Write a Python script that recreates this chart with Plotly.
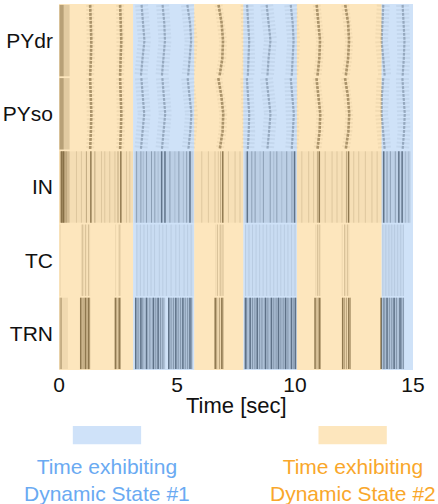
import plotly.graph_objects as go

# ---------------------------------------------------------------- data
POPULATIONS = ["PYdr", "PYso", "IN", "TC", "TRN"]
X_TICKS = [0, 5, 10, 15]

# epochs of the recording and the dynamic state expressed in each
STATE_EDGES = [0.0, 3.14, 5.73, 7.81, 10.08, 13.67, 15.0]
STATE_OF_EPOCH = [2, 1, 2, 1, 2, 1]

# pyramidal population waves: spike time (s) of the wave front sampled at
# these fractional positions down the neuron index
BAND_ROWS = [0.0, 0.25, 0.5, 0.75, 1.0]
PYDR_BANDS = [
    [1.32, 1.35, 1.37, 1.35, 1.32],
    [2.59, 2.61, 2.64, 2.61, 2.59],
    [3.50, 3.57, 3.62, 3.54, 3.47],
    [4.39, 4.46, 4.49, 4.42, 4.36],
    [5.44, 5.55, 5.60, 5.55, 5.47],
    [6.76, 6.89, 6.95, 6.92, 6.80],
    [7.97, 8.03, 8.06, 8.03, 8.00],
    [8.80, 8.88, 8.96, 8.88, 8.83],
    [9.82, 9.90, 9.94, 9.90, 9.86],
    [10.92, 11.00, 11.06, 11.03, 10.95],
    [12.13, 12.25, 12.29, 12.25, 12.15],
    [13.74, 13.69, 13.67, 13.74, 13.80],
    [14.56, 14.61, 14.64, 14.61, 14.56],
]
PYSO_BANDS = [
    [1.32, 1.34, 1.37, 1.35, 1.32],
    [2.59, 2.62, 2.64, 2.62, 2.59],
    [3.49, 3.56, 3.61, 3.54, 3.47],
    [4.38, 4.45, 4.50, 4.43, 4.36],
    [5.45, 5.54, 5.61, 5.56, 5.48],
    [6.75, 6.88, 6.96, 6.93, 6.81],
    [7.96, 8.02, 8.06, 8.04, 8.00],
    [8.79, 8.87, 8.96, 8.90, 8.83],
    [9.82, 9.89, 9.95, 9.91, 9.86],
    [10.91, 11.00, 11.07, 11.04, 10.95],
    [12.12, 12.24, 12.30, 12.26, 12.15],
    [13.74, 13.68, 13.67, 13.74, 13.80],
    [14.55, 14.60, 14.65, 14.62, 14.56],
]

# stretches of dense firing: (start s, end s, relative density)
PYDR_WINDOWS = [(0.02, 0.20, 0.55), (0.20, 0.45, 0.22)]
PYSO_WINDOWS = [(0.02, 0.20, 0.55), (0.20, 0.45, 0.22)]
IN_WINDOWS = [
    (0.00, 3.14, 0.07), (0.05, 0.22, 0.50), (0.22, 0.45, 0.28),
    (3.20, 5.70, 0.15), (5.73, 7.81, 0.05), (7.86, 10.06, 0.15),
    (10.08, 13.67, 0.06), (13.67, 14.90, 0.14),
]
TC_WINDOWS = [(3.25, 5.70, 0.05), (7.88, 10.05, 0.05), (13.70, 14.62, 0.07)]
TRN_WINDOWS = [
    (0.03, 0.38, 0.10), (0.90, 1.32, 0.15), (2.36, 2.62, 0.12),
    (3.22, 4.50, 0.25), (4.62, 5.66, 0.25), (6.58, 6.97, 0.12),
    (7.86, 10.05, 0.27), (10.83, 11.08, 0.12), (11.99, 12.37, 0.12),
    (13.62, 14.62, 0.25),
]

# population-wide synchronous discharges (s), by strength
IN_STRONG = [0.12, 0.20, 1.35, 2.62, 4.35, 4.49, 5.55, 6.94, 7.98, 9.98,
             11.03, 12.27, 13.76, 14.40, 14.54]
IN_MEDIUM = [0.30, 1.16, 1.52, 2.50, 3.29, 3.47, 3.71, 3.92, 4.06, 4.70,
             5.08, 5.41, 6.85, 8.17, 8.31, 8.66, 8.95, 9.23, 9.65, 9.87,
             10.95, 12.18, 13.90, 14.04, 14.25]
IN_FAINT = [0.74, 0.95, 1.80, 1.94, 2.15, 2.37, 2.86, 3.00, 3.57, 4.20,
            4.91, 5.27, 6.05, 6.33, 6.61, 6.75, 7.18, 7.46, 7.67, 8.52,
            9.10, 9.44, 10.29, 10.58, 10.79, 11.28, 11.57, 11.78, 11.99,
            12.49, 12.70, 12.98, 13.26, 13.48, 14.68, 14.82]

TC_STRONG = []
TC_MEDIUM = [1.00, 1.12, 1.25, 2.55, 6.72, 6.85, 6.95, 10.95, 11.05,
             12.10, 12.22]
TC_FAINT = [0.05, 0.95, 1.05, 1.18, 1.30, 2.40, 2.60, 3.30, 3.45, 3.60,
            3.75, 3.90, 4.05, 4.25, 4.40, 4.55, 4.75, 4.95, 5.10, 5.30,
            5.45, 5.60, 6.65, 6.80, 6.90, 7.90, 8.05, 8.20, 8.35, 8.50,
            8.65, 8.80, 8.95, 9.10, 9.25, 9.40, 9.55, 9.70, 9.85, 10.00,
            10.88, 11.00, 12.00, 12.15, 12.28, 13.72, 13.85, 13.98, 14.10,
            14.22, 14.35, 14.48, 14.60]

TRN_STRONG = [0.92, 1.12, 1.25, 2.39, 2.55, 3.25, 3.47, 3.71, 4.00, 4.20,
              4.65, 4.95, 5.25, 5.55, 6.62, 6.90, 7.90, 8.10, 8.40, 8.75,
              9.00, 9.30, 9.60, 9.85, 10.02, 10.85, 11.05, 12.02, 12.28,
              13.65, 13.90, 14.20, 14.45]
TRN_MEDIUM = [0.05, 0.10, 0.98, 1.05, 1.18, 1.30, 2.45, 2.60, 3.35, 3.55,
              3.85, 4.10, 4.30, 4.40, 4.75, 4.85, 5.05, 5.15, 5.35, 5.45,
              5.62, 6.68, 6.80, 6.95, 7.95, 8.20, 8.30, 8.50, 8.60, 8.85,
              9.10, 9.20, 9.40, 9.50, 9.70, 9.95, 10.93, 11.00, 12.10,
              12.18, 12.35, 13.75, 13.80, 14.00, 14.10, 14.30, 14.52, 14.60]
TRN_FAINT = []

LEGEND_TEXT = {1: "Time exhibiting<br>Dynamic State #1",
               2: "Time exhibiting<br>Dynamic State #2"}

# ---------------------------------------------------------------- style
FONT = "Liberation Sans, Arial, sans-serif"
STATE_FILL = {1: "rgb(159,197,241)", 2: "rgb(251,205,123)"}
STATE_SWATCH = {1: "#cfe2f9", 2: "#fde6bd"}
STATE_TEXT = {1: "#6aaaf2", 2: "#f9a72b"}
PAD = 0.012  # blank margin at top/bottom of each population strip

fig = go.Figure()


def strip(idx):
    return idx + PAD, idx + 1 - PAD


def add_lines(times, idx, alpha, width=1.0):
    if not times:
        return
    top, bot = strip(idx)
    xs, ys = [], []
    for t in times:
        xs += [t, t, None]
        ys += [top, bot, None]
    fig.add_trace(go.Scatter(x=xs, y=ys, mode="lines", hoverinfo="skip",
                             line=dict(color=f"rgba(0,0,0,{alpha})",
                                       width=width),
                             showlegend=False))


def add_windows(windows, idx):
    top, bot = strip(idx)
    for t0, t1, dens in windows:
        fig.add_shape(type="rect", xref="x", yref="y", x0=t0, x1=t1,
                      y0=top, y1=bot, layer="below", line_width=0,
                      fillcolor=f"rgba(0,0,0,{dens})")


def epoch_state(t):
    for k in range(len(STATE_OF_EPOCH)):
        if STATE_EDGES[k] <= t < STATE_EDGES[k + 1]:
            return STATE_OF_EPOCH[k]
    return STATE_OF_EPOCH[-1]


def add_bands(bands, idx):
    top, bot = strip(idx)
    ys = [top + r * (bot - top) for r in BAND_ROWS]
    for band in bands:
        loose = epoch_state(sum(band) / len(band)) == 1
        # scatter of spikes around the wave front
        fig.add_trace(go.Scatter(
            x=band, y=ys, mode="lines", hoverinfo="skip", showlegend=False,
            line=dict(color="rgba(0,0,0,0.09)", width=13 if loose else 8,
                      dash="2px,2px")))
        # the wave front itself
        fig.add_trace(go.Scatter(
            x=band, y=ys, mode="lines", hoverinfo="skip", showlegend=False,
            line=dict(color="rgba(0,0,0,0.40)" if loose else
                      "rgba(0,0,0,0.62)", width=2.2 if loose else 2.6,
                      dash="3px,1px")))


# pyramidal layers
add_windows(PYDR_WINDOWS, 0)
add_bands(PYDR_BANDS, 0)
add_windows(PYSO_WINDOWS, 1)
add_bands(PYSO_BANDS, 1)

# interneurons, thalamocortical and reticular cells
for idx, wins, strong, medium, faint, f_alpha in [
        (2, IN_WINDOWS, IN_STRONG, IN_MEDIUM, IN_FAINT, 0.2),
        (3, TC_WINDOWS, TC_STRONG, TC_MEDIUM, TC_FAINT, 0.13),
        (4, TRN_WINDOWS, TRN_STRONG, TRN_MEDIUM, TRN_FAINT, 0.22)]:
    add_windows(wins, idx)
    add_lines(faint, idx, f_alpha)
    add_lines(medium, idx, 0.45 if idx != 3 else 0.3)
    add_lines(strong, idx, 0.85, 1.5)

# dynamic-state epochs tinted over the raster
for k, state in enumerate(STATE_OF_EPOCH):
    fig.add_shape(type="rect", xref="x", yref="paper",
                  x0=STATE_EDGES[k], x1=STATE_EDGES[k + 1], y0=0, y1=1,
                  layer="above", line_width=0, opacity=0.5,
                  fillcolor=STATE_FILL[state])

# state key below the axis
for state, (x0, x1) in {1: (0.039, 0.232), 2: (0.733, 0.926)}.items():
    fig.add_shape(type="rect", xref="paper", yref="paper", x0=x0, x1=x1,
                  y0=-0.203, y1=-0.153, line_width=0,
                  fillcolor=STATE_SWATCH[state])
    fig.add_annotation(xref="paper", yref="paper", x=(x0 + x1) / 2, y=-0.30,
                       xanchor="center", yanchor="middle", showarrow=False,
                       text=LEGEND_TEXT[state], align="center",
                       font=dict(family=FONT, size=21,
                                 color=STATE_TEXT[state]))

fig.add_annotation(xref="paper", yref="paper", x=0.5, y=-0.098,
                   xanchor="center", yanchor="middle", showarrow=False,
                   text="Time [sec]",
                   font=dict(family=FONT, size=22, color="#111"))

fig.update_layout(
    width=438, height=504,
    margin=dict(l=59, r=25, t=4, b=134),
    paper_bgcolor="white", plot_bgcolor="white",
    font=dict(family=FONT, color="#111"),
    xaxis=dict(range=[0, 15], tickvals=X_TICKS, showgrid=False,
               zeroline=False, showline=False, ticks="",
               tickfont=dict(size=21)),
    yaxis=dict(range=[5, 0], tickvals=[i + 0.5 for i in range(5)],
               ticktext=POPULATIONS, showgrid=False, zeroline=False,
               showline=False, ticks="", ticklabelstandoff=5,
               tickfont=dict(size=21)),
)

fig.write_html("out.html")
